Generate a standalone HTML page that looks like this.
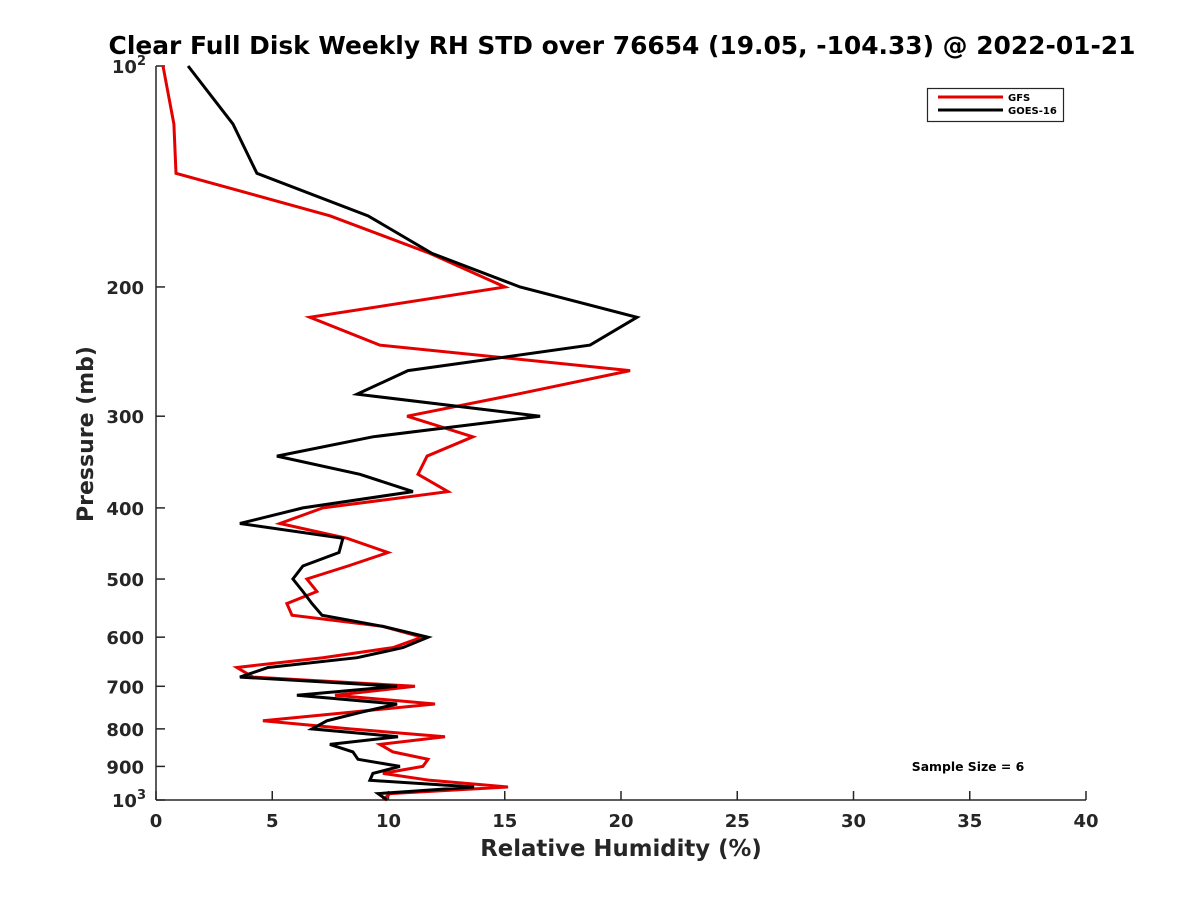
<!DOCTYPE html>
<html><head><meta charset="utf-8"><style>
body{margin:0;background:#fff}
svg{display:block;font-family:"DejaVu Sans","Liberation Sans",sans-serif;font-weight:bold}
</style></head><body>
<svg id="chart" width="1200" height="900">
<rect width="1200" height="900" fill="#fff"/>
<text x="622" y="54" font-size="24.9" text-anchor="middle" fill="#000">Clear Full Disk Weekly RH STD over 76654 (19.05, -104.33) @ 2022-01-21</text>
<g id="axes"></g>
<g id="series"></g>
<text x="621" y="856" font-size="22.8" text-anchor="middle" fill="#262626">Relative Humidity (%)</text>
<text transform="translate(93,434) rotate(-90)" font-size="22" text-anchor="middle" fill="#262626">Pressure (mb)</text>
<g>
<rect x="927.5" y="88.5" width="136" height="33" fill="#fff" stroke="#262626" stroke-width="1.2"/>
<line x1="938" y1="97" x2="1003" y2="97" stroke="#e50000" stroke-width="3"/>
<text x="1008" y="101" font-size="10" fill="#000">GFS</text>
<line x1="938" y1="110" x2="1003" y2="110" stroke="#000" stroke-width="3"/>
<text x="1008" y="114" font-size="10" fill="#000">GOES-16</text>
</g>
<text x="968" y="771" font-size="12.4" text-anchor="middle" fill="#000">Sample Size = 6</text>
</svg>
<script>
const pressures = [100,120,140,160,180,200,220,240,260,280,300,320,340,360,380,400,420,440,460,480,500,520,540,560,580,600,620,640,660,680,700,720,740,760,780,800,820,840,860,880,900,920,940,960,980,1000];
const gfsValues = [0.30,0.77,0.86,7.48,11.78,15.01,6.62,9.63,20.39,15.53,10.80,13.63,11.66,11.27,12.56,7.18,5.33,8.22,9.98,8.26,6.49,6.92,5.63,5.85,9.76,11.44,10.19,7.18,3.48,4.17,11.14,7.70,12.0,8.26,4.60,8.34,12.43,9.63,10.19,11.70,11.48,9.76,11.78,15.14,10.06,9.76];
const goesValues = [1.38,3.31,4.34,9.12,11.87,15.66,20.69,18.67,10.84,8.65,16.52,9.33,5.20,8.77,11.05,6.32,3.61,8.04,7.87,6.32,5.89,6.32,6.71,7.14,9.76,11.70,10.62,8.65,4.82,3.61,10.37,6.06,10.37,8.77,7.35,6.71,10.41,7.48,8.47,8.69,10.49,9.33,9.20,13.68,9.55,9.94];
const xTicks = [0,5,10,15,20,25,30,35,40];
const yTicks = [100,200,300,400,500,600,700,800,900,1000];
const yTickLabels = ["10²","200","300","400","500","600","700","800","900","10³"];

const L=156,R=1086,T=66,B=800;
const xs=v=>L+(v-0)/(40-0)*(R-L);
const ys=p=>T+(Math.log10(p)-2)*(B-T);
const NS="http://www.w3.org/2000/svg";
function mk(tag,attrs,parent){const e=document.createElementNS(NS,tag);for(const k in attrs)e.setAttribute(k,attrs[k]);parent.appendChild(e);return e;}
const ax=document.getElementById('axes');
const xl=mk('line',{x1:L,y1:B,x2:R,y2:B,stroke:'#262626','stroke-width':1.5},ax);


const yl=mk('line',{x1:L,y1:T,x2:L,y2:B,stroke:'#262626','stroke-width':1.5},ax);


xTicks.forEach(v=>{
  const x=xs(v);
  const t=mk('line',{x1:x,y1:B,x2:x,y2:B-9,stroke:'#262626','stroke-width':1.5},ax);
  
  
  const tx=mk('text',{x:x,y:B+27,'font-size':18,'text-anchor':'middle',fill:'#262626'},ax);
  tx.textContent=v;
  
  
});
yTicks.forEach((p,i)=>{
  const y=ys(p);
  const t=mk('line',{x1:L,y1:y,x2:L+9,y2:y,stroke:'#262626','stroke-width':1.5},ax);
  
  
  const lab=yTickLabels[i];
  const tx=mk('text',{x:L-12,y:y+7,'font-size':18,'text-anchor':'end',fill:'#262626'},ax);
  if(lab.length===3&&(lab[2]==='²'||lab[2]==='³')){
    tx.setAttribute('x',L-10);
    const a=mk('tspan',{},tx);a.textContent='10';
    const b=mk('tspan',{dy:-8,'font-size':13},tx);b.textContent=lab[2]==='²'?'2':'3';
  } else tx.textContent=lab;
  
  
});
const sg=document.getElementById('series');
function drawLine(vals,color,name){
  const pts=pressures.map((p,i)=>xs(vals[i]).toFixed(1)+','+ys(p).toFixed(1)).join(' ');
  const pl=mk('polyline',{points:pts,fill:'none',stroke:color,'stroke-width':3,'stroke-linejoin':'miter'},sg);
  
  
}
drawLine(gfsValues,'#e50000','gfs-line');
drawLine(goesValues,'#000','goes-16-line');
</script>
</body></html>
